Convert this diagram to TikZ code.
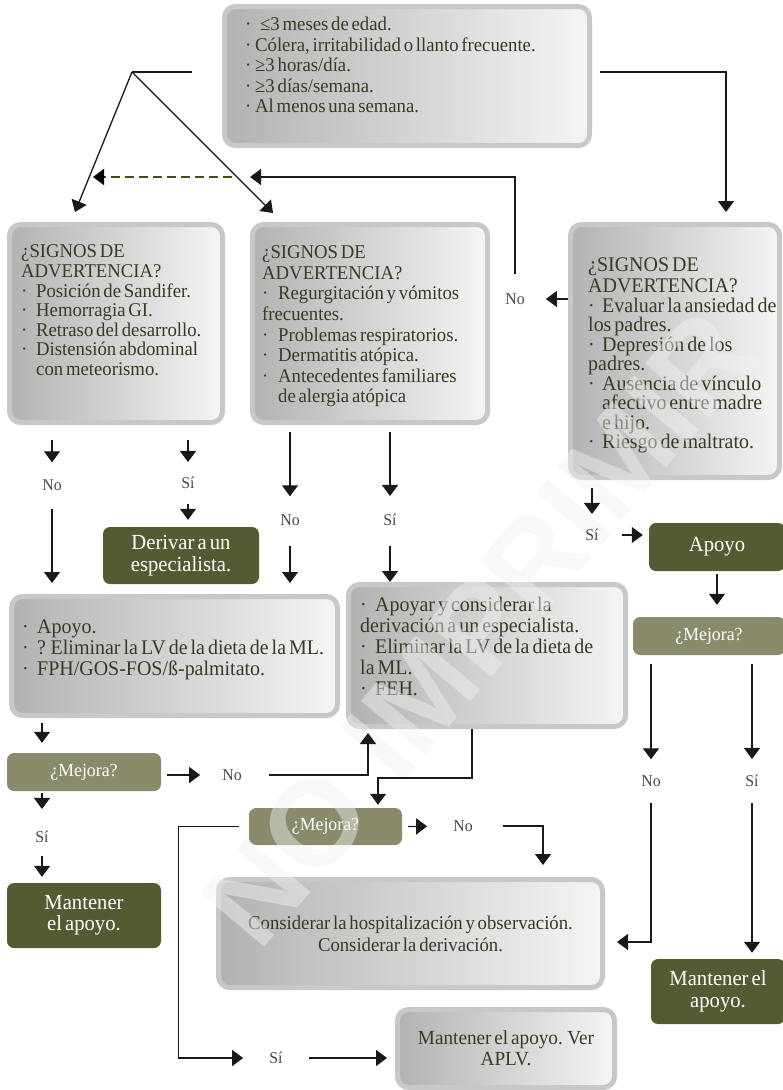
\documentclass[tikz,border=0pt]{standalone}
\usepackage{fontspec}
\setmainfont{Liberation Serif}[FakeStretch=0.96,WordSpace=0.6]
\newfontfamily\markfont{Liberation Sans}
\usepackage{tikz}
\usetikzlibrary{positioning,arrows.meta}

\definecolor{olivedark}{HTML}{545A31}
\definecolor{olivemid}{HTML}{8A8B6B}
\definecolor{txtdark}{HTML}{3A3A24}
\definecolor{labgray}{HTML}{474747}
\definecolor{dashgreen}{HTML}{4B4A12}
\definecolor{boxrim}{HTML}{C8C8C8}

\newcommand{\itm}[1][15pt]{\makebox[#1][l]{·}}

\tikzset{
	graybox/.style={rectangle, rounded corners=11pt, draw=boxrim, line width=5pt, left color=black!30, right color=black!4, inner sep=0pt, text=txtdark, align=center},
	darkbox/.style={rectangle, rounded corners=7pt, fill=olivedark, text=white, align=center, inner sep=0pt, font=\fontsize{21.5}{21.5}\selectfont},
	mejbox/.style={rectangle, rounded corners=7pt, fill=olivemid, text=white, inner sep=0pt, font=\fontsize{18.5}{20}\selectfont},
	boxtext/.style={anchor=north west, align=left, inner sep=0pt, text=txtdark},
	lab/.style={text=labgray, inner sep=0pt, font=\fontsize{16.5}{18}\selectfont},
	link/.style={line width=1.3pt, draw=black!90},
	arr/.style={link, -{Triangle[length=11pt,width=16pt]}},
	dasharr/.style={line width=1.3pt, draw=dashgreen, dash pattern=on 9pt off 5pt, -{Triangle[length=11pt,width=16pt,color=black]}}
}

\begin{document}
\begin{tikzpicture}[x=1pt,y=-1pt]
\useasboundingbox (0,0) rectangle (783,1090);

	\node[graybox, minimum width=365pt, minimum height=139pt] (top) at (407,76) {};
	\node[graybox, minimum width=213pt, minimum height=198pt] (sigL) at (116,323.5) {};
	\node[graybox, minimum width=235pt, minimum height=198pt] (sigM) at (370,323.5) {};
	\node[graybox, minimum width=209pt, minimum height=253pt] (sigR) at (675,351) {};
	\node[graybox, minimum width=326pt, minimum height=119pt] (boxA) at (174.5,656) {};
	\node[graybox, minimum width=277pt, minimum height=142pt] (boxB) at (487,655.5) {};
	\node[graybox, minimum width=384pt, minimum height=108pt, font=\fontsize{19.5}{22}\selectfont] (boxC) at (410.5,933.5) {Considerar la hospitalización y observación.\\Considerar la derivación.};
	\node[graybox, minimum width=217pt, minimum height=78pt, font=\fontsize{20}{21}\selectfont] (boxD) at (506,1048.5) {Mantener el apoyo. Ver\\APLV.};

	\node[boxtext, font=\fontsize{19.5}{20.5}\selectfont] (topText) at (245,16) {\strut\itm ≤3 meses de edad.\\\itm[10pt]Cólera, irritabilidad o llanto frecuente.\\\itm[10pt]≥3 horas/día.\\\itm[10pt]≥3 días/semana.\\\itm[10pt]Al menos una semana.};
	\node[boxtext, font=\fontsize{19.5}{19.6}\selectfont] (sigLText) at (21,244) {\strut¿SIGNOS DE\\ADVERTENCIA?\\\itm Posición de Sandifer.\\\itm Hemorragia GI.\\\itm Retraso del desarrollo.\\\itm Distensión abdominal\\\hspace*{15pt}con meteorismo.};
	\node[boxtext, font=\fontsize{19.5}{20.6}\selectfont] (sigMText) at (262,244) {\strut¿SIGNOS DE\\ADVERTENCIA?\\\itm[16pt]Regurgitación y vómitos\\frecuentes.\\\itm[16pt]Problemas respiratorios.\\\itm[16pt]Dermatitis atópica.\\\itm[16pt]Antecedentes familiares\\\hspace*{16pt}de alergia atópica};
	\node[boxtext, font=\fontsize{20.8}{19.5}\selectfont] (sigRText) at (588,258) {\strut¿SIGNOS DE\\ADVERTENCIA?\\\itm[14pt]Evaluar la ansiedad de\\los padres.\\\itm[14pt]Depresión de los\\padres.\\\itm[14pt]Ausencia de vínculo\\\hspace*{14pt}afectivo entre madre\\\hspace*{14pt}e hijo.\\\itm[14pt]Riesgo de maltrato.};
	\node[boxtext, font=\fontsize{20.8}{21}\selectfont] (boxAText) at (22,619) {\strut\itm Apoyo.\\\itm ? Eliminar la LV de la dieta de la ML.\\\itm FPH/GOS-FOS/ß-palmitato.};
	\node[boxtext, font=\fontsize{20.8}{21}\selectfont] (boxBText) at (360,597) {\strut\itm Apoyar y considerar la\\derivación a un especialista.\\\itm Eliminar la LV de la dieta de\\la ML.\\\itm FEH.};

	\node[darkbox, minimum width=156pt, minimum height=57pt] (deriv) at (181,555.5) {Derivar a un\\especialista.};
	\node[darkbox, minimum width=136pt, minimum height=48pt] (apoyo) at (717,547) {Apoyo};
	\node[mejbox, minimum width=152pt, minimum height=38pt] (mejR) at (709,636) {¿Mejora?};
	\node[mejbox, minimum width=154pt, minimum height=38pt] (mejL) at (84,772) {¿Mejora?};
	\node[mejbox, minimum width=153pt, minimum height=37pt] (mejM) at (325.5,826.5) {¿Mejora?};
	\node[darkbox, minimum width=154pt, minimum height=65pt] (mantL) at (84,915.5) {Mantener\\el apoyo.};
	\node[darkbox, minimum width=134pt, minimum height=65pt] (mantR) at (718,991.5) {Mantener el\\apoyo.};

	\node[text=black!5, opacity=0.45, rotate=50, font=\markfont\bfseries\fontsize{122}{122}\selectfont] (mark) at (478,628) {NO IMPRIMIR};

	\node[lab] (noL) at (52,485) {No};
	\node[lab] (siL) at (188,483) {Sí};
	\node[lab] (noM) at (290,520) {No};
	\node[lab] (siM) at (390,520) {Sí};
	\node[lab] (noR) at (515,299) {No};
	\node[lab] (siR) at (592,535) {Sí};
	\node[lab] (noMejL) at (232,775) {No};
	\node[lab] (siMejL) at (42,837) {Sí};
	\node[lab] (noMejM) at (463,826) {No};
	\node[lab] (siMejM) at (276,1058) {Sí};
	\node[lab] (noMejR) at (651,781) {No};
	\node[lab] (siMejR) at (752,781) {Sí};

	\coordinate (fork) at (132,72);
	\coordinate (tipL) at (75,212);
	\coordinate (tipR) at (273,213);
	\coordinate (joinR) at (250,177);
	\coordinate (joinL) at (93,177);

	\draw[link, shorten <=30pt] (top.west |- fork) -- (fork);
	\draw[arr] (fork) -- (tipL);
	\draw[arr] (fork) -- (tipR);
	\draw[arr, shorten <=8pt, shorten >=10pt] (top.east |- fork) -| ([xshift=51pt]sigR.north);
	\draw[arr, shorten >=21pt] (sigR.west |- noR) -- (noR);
	\draw[arr, shorten <=19pt] (noR) |- (joinR);
	\draw[dasharr, shorten <=18pt] (joinR) -- (joinL);

	\draw[arr, shorten <=15pt, shorten >=17pt] (sigL.south -| noL) -- (noL);
	\draw[arr, shorten <=18pt, shorten >=11pt] (noL) -- (noL |- boxA.north);
	\draw[arr, shorten <=15pt, shorten >=15pt] (sigL.south -| siL) -- (siL);
	\draw[arr, shorten <=15pt, shorten >=7pt] (siL) -- (siL |- deriv.north);
	\draw[arr, shorten <=7pt, shorten >=18pt] (sigM.south -| noM) -- (noM);
	\draw[arr, shorten <=20pt, shorten >=11pt] (noM) -- (noM |- boxA.north);
	\draw[arr, shorten <=7pt, shorten >=18pt] (sigM.south -| siM) -- (siM);
	\draw[arr, shorten <=20pt] (siM) -- (siM |- boxB.north);
	\draw[arr, shorten <=8pt, shorten >=15pt] (sigR.south -| siR) -- (siR);
	\draw[arr, shorten <=23pt, shorten >=6pt] (siR) -- (siR -| apoyo.west);
	\draw[arr, shorten <=3pt, shorten >=12pt] (apoyo.south) -- (apoyo.south |- mejR.north);
	\draw[arr, shorten <=9pt, shorten >=16pt] (mejR.south -| noMejR) -- (noMejR);
	\draw[arr, shorten <=9pt, shorten >=16pt] (mejR.south -| siMejR) -- (siMejR);
	\draw[arr, shorten <=16pt, shorten >=12pt] (noMejR) |- ([yshift=-8.5pt]boxC.east);
	\draw[arr, shorten <=16pt, shorten >=6pt] (siMejR) -- (siMejR |- mantR.north);

	\draw[arr, shorten <=5pt, shorten >=10pt] (boxA.south -| siMejL) -- (mejL.north -| siMejL);
	\draw[arr, shorten <=2pt, shorten >=22pt] (mejL.south -| siMejL) -- (siMejL);
	\draw[arr, shorten <=13pt, shorten >=6pt] (siMejL) -- (siMejL |- mantL.north);
	\draw[arr, shorten <=6pt, shorten >=22pt] (mejL.east |- noMejL) -- (noMejL);
	\draw[arr, shorten <=27pt, shorten >=4pt] (noMejL) -| ([xshift=22pt]boxB.south west);
	\draw[arr, shorten >=3pt] ([xshift=-15pt]boxB.south) -- ++(0,49) -| ([xshift=52.5pt]mejM.north);
	\draw[arr, shorten <=6pt, shorten >=26pt] (mejM.east) -- (noMejM);
	\draw[arr, shorten <=30pt, shorten >=12pt] (noMejM) -| ([xshift=132.5pt]boxC.north);
	\draw[arr, shorten <=10pt, shorten >=26pt] (mejM.west) -- ++(-70,0) |- (siMejM);
	\draw[arr, shorten <=26pt, shorten >=8pt] (siMejM) -- (siMejM -| boxD.west);
\end{tikzpicture}
\end{document}
